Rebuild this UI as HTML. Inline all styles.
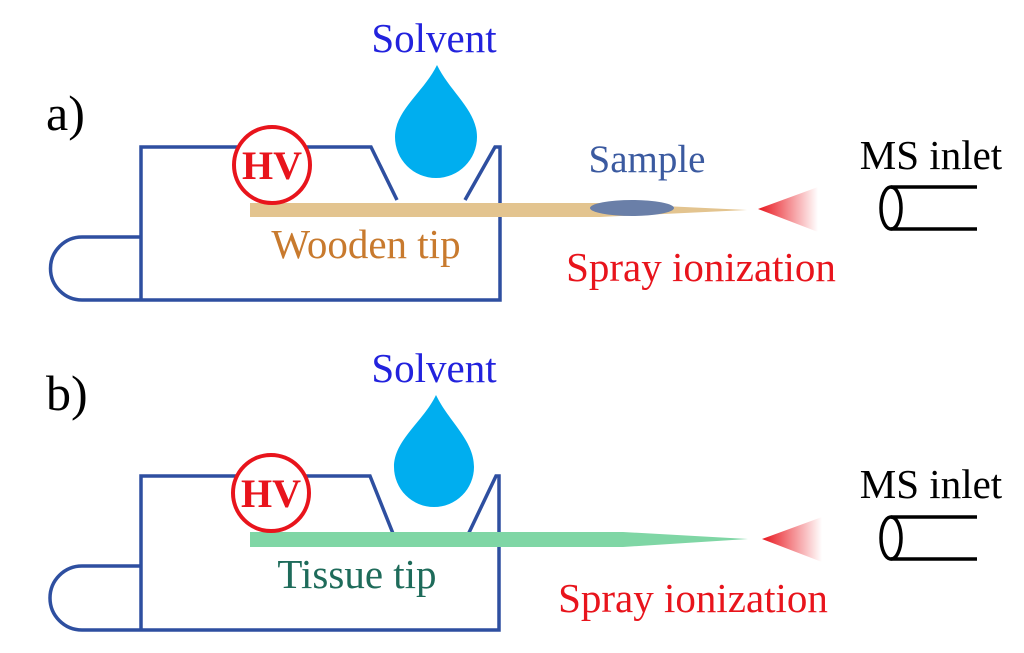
<!DOCTYPE html>
<html><head><meta charset="utf-8"><style>
html,body{margin:0;padding:0;background:#fff;}
svg{display:block;}
svg text{font-family:"Liberation Serif","Times New Roman",serif;}
</style></head><body>
<svg width="1024" height="653" viewBox="0 0 1024 653" xmlns="http://www.w3.org/2000/svg" font-family="Liberation Serif, serif">
<defs>
<linearGradient id="spr" x1="0" x2="1" y1="0" y2="0">
<stop offset="0" stop-color="#e8141c"/><stop offset="1" stop-color="#e8141c" stop-opacity="0"/>
</linearGradient>
</defs>
<g>
<text x="46" y="130" font-size="50" fill="#000">a)</text>
<path d="M141,237 H82 A31.5,31.5 0 0 0 82,300 H141" fill="none" stroke="#2e4fa0" stroke-width="3.5"/>
<path d="M141,300 V147 H371 L397,200 M465,200 L495,147 H500 V300 H141" fill="none" stroke="#2e4fa0" stroke-width="3.5"/>
<path d="M250,203 H600 L747,210 L600,217 H250 Z" fill="#e3c48f"/>
<ellipse cx="632" cy="208" rx="42" ry="8" fill="#6a7fa8"/>
<path d="M437,65 C450,92 477,110 477,137 A41,41 0 1 1 395,137 C395,110 424,92 437,65 Z" fill="#00aeef"/>
<circle cx="272" cy="165" r="38" fill="#fff" stroke="#e8141c" stroke-width="4"/>
<text x="272" y="179" font-size="40" font-weight="bold" fill="#e8141c" text-anchor="middle">HV</text>
<text x="434" y="52" font-size="41" fill="#2222dd" text-anchor="middle">Solvent</text>
<text x="366" y="258" font-size="41" fill="#c87a2e" text-anchor="middle">Wooden tip</text>
<text x="647" y="172" font-size="39" fill="#3b5aa0" text-anchor="middle">Sample</text>
<text x="701" y="281" font-size="41" fill="#e8141c" text-anchor="middle">Spray ionization</text>
<path d="M758,209 L818,187 L818,232 Z" fill="url(#spr)"/>
<text x="931" y="169" font-size="41" fill="#000" text-anchor="middle">MS inlet</text>
<ellipse cx="891" cy="208" rx="10" ry="21" fill="none" stroke="#000" stroke-width="3.5"/>
<path d="M891,187 H977 M891,229 H977" stroke="#000" stroke-width="3.5"/>
</g>
<g>
<text x="46" y="410" font-size="50" fill="#000">b)</text>
<path d="M141,566 H82 A31.5,31.5 0 0 0 82,630 H141" fill="none" stroke="#2e4fa0" stroke-width="3.5"/>
<path d="M141,630 V476 H370 L396,541 M465,541 L496,476 H499 V630 H141" fill="none" stroke="#2e4fa0" stroke-width="3.5"/>
<path d="M250,532 H623 L748,539 L623,547 H250 Z" fill="#7fd6a5"/>
<path d="M436,395 C449,422 474,440 474,467 A40,40 0 1 1 394,467 C394,440 423,422 436,395 Z" fill="#00aeef"/>
<circle cx="271" cy="493" r="38" fill="#fff" stroke="#e8141c" stroke-width="4"/>
<text x="271" y="507" font-size="40" font-weight="bold" fill="#e8141c" text-anchor="middle">HV</text>
<text x="434" y="382" font-size="41" fill="#2222dd" text-anchor="middle">Solvent</text>
<text x="357" y="588" font-size="41" fill="#1e6b5a" text-anchor="middle">Tissue tip</text>
<text x="693" y="612" font-size="41" fill="#e8141c" text-anchor="middle">Spray ionization</text>
<path d="M762,539 L822,517 L822,562 Z" fill="url(#spr)"/>
<text x="931" y="498" font-size="41" fill="#000" text-anchor="middle">MS inlet</text>
<ellipse cx="891" cy="538" rx="10" ry="21" fill="none" stroke="#000" stroke-width="3.5"/>
<path d="M891,517 H977 M891,559 H977" stroke="#000" stroke-width="3.5"/>
</g>
</svg>
</body></html>
